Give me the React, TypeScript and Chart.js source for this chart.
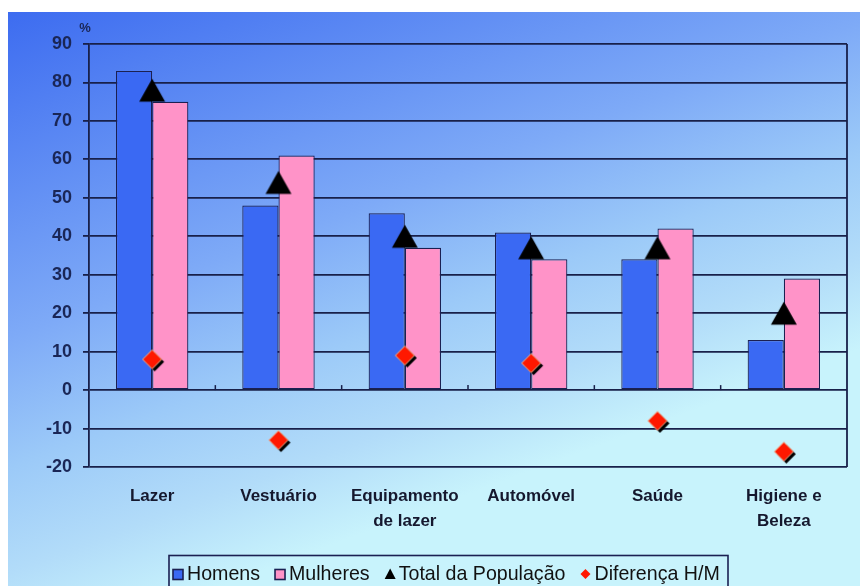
import React, { useEffect, useRef } from 'react';
import { Chart, registerables } from 'chart.js';

Chart.register(...registerables);

// Spending categories and survey shares (%)
const CATEGORIES: (string | string[])[] = [
  'Lazer',
  'Vestuário',
  ['Equipamento', 'de lazer'],
  'Automóvel',
  'Saúde',
  ['Higiene e', 'Beleza'],
];
const SERIES_NAMES = ['Homens', 'Mulheres', 'Total da População', 'Diferença H/M'];
const HOMENS = [83, 48, 46, 41, 34, 13];
const MULHERES = [75, 61, 37, 34, 42, 29];
const TOTAL = [78, 54, 40, 37, 37, 20];
const DIFERENCA = [8, -13, 9, 7, -8, -16];
const Y_MIN = -20;
const Y_MAX = 90;
const Y_STEP = 10;
const UNIT_LABEL = '%';

const FONT = 'Arial, "Liberation Sans", sans-serif';
const BLUE = '#3a69f3';
const PINK = '#ff93c8';
const EDGE = '#1b2052';
const GRID = '#18204a';
const TICK_TEXT = '#1a2656';
const LABEL_TEXT = '#15182e';
const RED = '#ff1800';

function diamondPath(g: CanvasRenderingContext2D, cx: number, cy: number, r: number) {
  g.beginPath();
  g.moveTo(cx, cy - r);
  g.lineTo(cx + r, cy);
  g.lineTo(cx, cy + r);
  g.lineTo(cx - r, cy);
  g.closePath();
}

function makeTriangle(): HTMLCanvasElement {
  const c = document.createElement('canvas');
  c.width = 28;
  c.height = 26;
  const g = c.getContext('2d')!;
  g.fillStyle = '#000';
  g.beginPath();
  g.moveTo(14, 1.5);
  g.lineTo(27, 24.5);
  g.lineTo(1, 24.5);
  g.closePath();
  g.fill();
  return c;
}

function makeDiamond(): HTMLCanvasElement {
  const c = document.createElement('canvas');
  c.width = 28;
  c.height = 28;
  const g = c.getContext('2d')!;
  g.fillStyle = '#000';
  diamondPath(g, 16.5, 16.5, 9.5);
  g.fill();
  g.fillStyle = RED;
  diamondPath(g, 14, 14, 9.5);
  g.fill();
  g.strokeStyle = '#f2b08c';
  g.lineWidth = 1;
  g.stroke();
  return c;
}

// Diagonal blue-to-cyan wash behind the whole chart
const backdrop = {
  id: 'backdrop',
  beforeDraw(chart: any) {
    const { ctx, width, height } = chart;
    const g = ctx.createLinearGradient(0, 0, width * 0.25, height);
    g.addColorStop(0, '#3d6cf0');
    g.addColorStop(0.5, '#7eaaf7');
    g.addColorStop(0.7, '#9ccaf8');
    g.addColorStop(0.86, '#b2dcf9');
    g.addColorStop(1, '#c8f3fc');
    ctx.save();
    ctx.fillStyle = g;
    ctx.fillRect(0, 0, width, height);
    ctx.restore();
  },
};

// Right border of the plot, tick marks on the zero line and the unit label
const frame = {
  id: 'frame',
  beforeDatasetsDraw(chart: any) {
    const { ctx, chartArea } = chart;
    const xs = chart.scales.x;
    const ys = chart.scales.y;
    const y0 = ys.getPixelForValue(0);
    ctx.save();
    ctx.strokeStyle = GRID;
    ctx.lineWidth = 1.5;
    for (let i = 1; i < CATEGORIES.length; i++) {
      const bx = (xs.getPixelForTick(i - 1) + xs.getPixelForTick(i)) / 2;
      ctx.beginPath();
      ctx.moveTo(bx, y0);
      ctx.lineTo(bx, y0 - 5);
      ctx.stroke();
    }
    ctx.lineWidth = 1.8;
    ctx.beginPath();
    ctx.moveTo(chartArea.right, chartArea.top);
    ctx.lineTo(chartArea.right, chartArea.bottom);
    ctx.stroke();
    ctx.fillStyle = TICK_TEXT;
    ctx.font = `bold 13px ${FONT}`;
    ctx.textAlign = 'center';
    ctx.textBaseline = 'middle';
    ctx.fillText(UNIT_LABEL, chartArea.left - 4, chartArea.top - 16);
    ctx.restore();
  },
};

function drawLegendMark(ctx: CanvasRenderingContext2D, i: number, x: number, cy: number) {
  if (i < 2) {
    ctx.fillStyle = i === 0 ? BLUE : PINK;
    ctx.fillRect(x, cy - 4.5, 10, 10);
    ctx.strokeStyle = EDGE;
    ctx.lineWidth = 1.6;
    ctx.strokeRect(x, cy - 4.5, 10, 10);
  } else if (i === 2) {
    ctx.fillStyle = '#000';
    ctx.beginPath();
    ctx.moveTo(x + 5.5, cy - 5.5);
    ctx.lineTo(x + 11, cy + 5);
    ctx.lineTo(x, cy + 5);
    ctx.closePath();
    ctx.fill();
  } else {
    ctx.fillStyle = RED;
    diamondPath(ctx, x + 5, cy, 5);
    ctx.fill();
  }
}

// Boxed legend along the bottom edge
const legendBox = {
  id: 'legendBox',
  afterDraw(chart: any) {
    const { ctx } = chart;
    const names: string[] = chart.data.datasets.map((d: any) => d.label);
    const left = 165;
    const right = 712;
    const cy = 562;
    const mark = 11;
    const markGap = 3;
    const itemGap = 15;
    ctx.save();
    ctx.font = `100px ${FONT}`;
    const w100 = names.reduce((s, n) => s + ctx.measureText(n).width, 0);
    const avail = right - left - names.length * (mark + markGap) - (names.length - 1) * itemGap;
    const fs = Math.min(20, Math.max(14, (avail / w100) * 100));
    ctx.strokeStyle = EDGE;
    ctx.lineWidth = 1.6;
    ctx.strokeRect(161, 543.5, 559, 40);
    ctx.font = `${fs}px ${FONT}`;
    ctx.textAlign = 'left';
    ctx.textBaseline = 'middle';
    let x = left;
    names.forEach((n, i) => {
      drawLegendMark(ctx, i, x, cy);
      x += mark + markGap;
      ctx.fillStyle = '#111';
      ctx.fillText(n, x, cy + 1);
      x += ctx.measureText(n).width + itemGap;
    });
    ctx.restore();
  },
};

export default function App() {
  const canvasRef = useRef<HTMLCanvasElement | null>(null);

  useEffect(() => {
    if (!canvasRef.current) return;
    const triangle = makeTriangle();
    const diamond = makeDiamond();
    const chart = new Chart(canvasRef.current, {
      type: 'bar',
      data: {
        labels: CATEGORIES as any,
        datasets: [
          {
            type: 'bar',
            label: SERIES_NAMES[0],
            data: HOMENS,
            backgroundColor: BLUE,
            borderColor: EDGE,
            borderWidth: 1.2,
            borderSkipped: false,
            barPercentage: 1,
            categoryPercentage: 0.573,
            order: 2,
          },
          {
            type: 'bar',
            label: SERIES_NAMES[1],
            data: MULHERES,
            backgroundColor: PINK,
            borderColor: EDGE,
            borderWidth: 1.2,
            borderSkipped: false,
            barPercentage: 1,
            categoryPercentage: 0.573,
            order: 2,
          },
          {
            type: 'line',
            label: SERIES_NAMES[2],
            data: TOTAL,
            showLine: false,
            pointStyle: triangle,
            pointRadius: 12,
            order: 1,
          },
          {
            type: 'line',
            label: SERIES_NAMES[3],
            data: DIFERENCA,
            showLine: false,
            pointStyle: diamond,
            pointRadius: 12,
            order: 0,
          },
        ] as any,
      },
      options: {
        responsive: false,
        devicePixelRatio: 1,
        animation: false,
        layout: { padding: { top: 32, right: 7, left: 0, bottom: 0 } },
        plugins: {
          legend: { display: false },
          tooltip: { enabled: false },
        },
        scales: {
          x: {
            grid: { display: false, drawTicks: false },
            border: { display: false },
            ticks: {
              padding: 17,
              color: LABEL_TEXT,
              autoSkip: false,
              maxRotation: 0,
              font: { family: FONT, size: 17, weight: 'bold', lineHeight: 1.47 },
            },
            afterFit: (s: any) => {
              s.height = 119;
            },
          },
          y: {
            min: Y_MIN,
            max: Y_MAX,
            ticks: {
              stepSize: Y_STEP,
              padding: 11,
              color: TICK_TEXT,
              font: { family: FONT, size: 18, weight: 'bold' },
            },
            grid: { color: GRID, lineWidth: 1.8, tickLength: 6, tickColor: GRID },
            border: { color: GRID, width: 1.8 },
            afterFit: (s: any) => {
              s.width = 81;
            },
          },
        },
      } as any,
      plugins: [backdrop, frame, legendBox],
    });
    return () => chart.destroy();
  }, []);

  return (
    <div style={{ position: 'absolute', left: 8, top: 12, width: 852, height: 574 }}>
      <canvas ref={canvasRef} width={852} height={574} style={{ display: 'block' }} />
    </div>
  );
}
